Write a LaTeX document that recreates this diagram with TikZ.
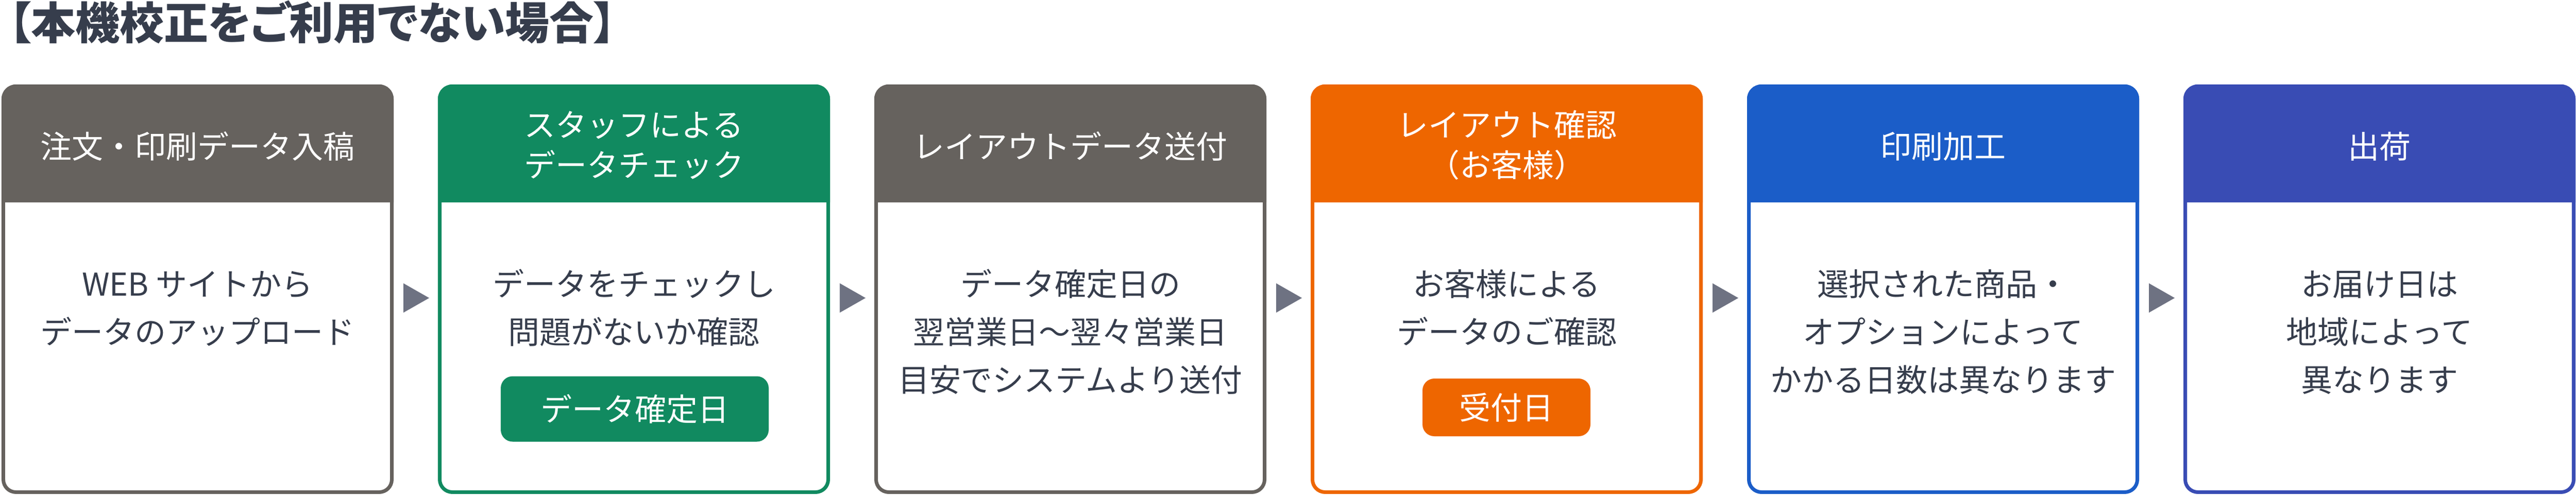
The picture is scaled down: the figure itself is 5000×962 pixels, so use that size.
\documentclass[tikz,border=0pt]{standalone}
\usepackage{fontspec}
\setmainfont{Noto Sans CJK JP}
\usetikzlibrary{calc}
\definecolor{cgray}{HTML}{66625E}
\definecolor{cgreen}{HTML}{118A60}
\definecolor{corange}{HTML}{EE6600}
\definecolor{cblue}{HTML}{1B5DC8}
\definecolor{cindigo}{HTML}{394CB4}
\definecolor{ctext}{HTML}{363D4C}
\definecolor{carrow}{HTML}{6E7282}
\begin{document}
\begin{tikzpicture}[x=0.2pt,y=-0.2pt,
  stepframe/.style={draw=#1, fill=white, line width=1.4pt, rounded corners=4.9pt,
    minimum width=150.8pt, minimum height=157.6pt, inner sep=0pt},
  hdrtext/.style={text=white, font=\fontsize{12.2pt}{15pt}\selectfont, inner sep=0pt, anchor=base},
  bodytext/.style={text=ctext, font=\fontsize{12.2pt}{15pt}\selectfont, inner sep=0pt, anchor=base},
  tag/.style={fill=#1, text=white, rounded corners=4.6pt, inner sep=0pt,
    font=\fontsize{12.2pt}{15pt}\selectfont},
  marker/.style={fill=carrow}]
\useasboundingbox (0,0) rectangle (5000,962);

\node[text=ctext, font=\fontsize{17.2pt}{21pt}\selectfont\bfseries\addfontfeatures{CharacterWidth=AlternateProportional},
  inner sep=0pt, anchor=base west]
  (title) at (16,76) {【本機校正をご利用でない場合】};

\foreach \i/\c in {1/cgray,2/cgreen,3/cgray,4/corange,5/cblue,6/cindigo} {
  \pgfmathsetmacro\L{3+847*(\i-1)}
  \node[stepframe=\c] (b\i) at (\L+380.5,561.5) {};
  \begin{scope}
    \clip (\L-5,150) rectangle (\L+766,392);
    \fill[\c, rounded corners=5.6pt] (\L,164) rectangle (\L+761,460);
  \end{scope}
}

\foreach \i in {1,...,5} {
  \coordinate (a\i) at (808+847*\i-847,578.5);
  \fill[marker] (a\i) ++(-25,-28.5) -- ++(50,28.5) -- ++(-50,28.5) -- cycle;
}

% headers
\node[hdrtext] (h1) at (383.5,307) {注文・印刷データ入稿};
\node[hdrtext] (h2a) at (1230.5,265) {スタッフによる};
\node[hdrtext] (h2b) at (1230.5,343) {データチェック};
\node[hdrtext] (h3) at (2077.5,307) {レイアウトデータ送付};
\node[hdrtext] (h4a) at (2924.5,265) {レイアウト確認};
\node[hdrtext] (h4b) at (2924.5,343) {（お客様）};
\node[hdrtext] (h5) at (3771.5,307) {印刷加工};
\node[hdrtext] (h6) at (4618.5,307) {出荷};

% bodies
\node[bodytext] (t1a) at (383.5,574) {WEB サイトから};
\node[bodytext] (t1b) at (383.5,667) {データのアップロード};
\node[bodytext] (t2a) at (1230.5,574) {データをチェックし};
\node[bodytext] (t2b) at (1230.5,667) {問題がないか確認};
\node[bodytext] (t3a) at (2077.5,574) {データ確定日の};
\node[bodytext] (t3b) at (2077.5,667) {翌営業日〜翌々営業日};
\node[bodytext] (t3c) at (2077.5,760) {目安でシステムより送付};
\node[bodytext] (t4a) at (2924.5,574) {お客様による};
\node[bodytext] (t4b) at (2924.5,667) {データのご確認};
\node[bodytext] (t5a) at (3771.5,574) {選択された商品・};
\node[bodytext] (t5b) at (3771.5,667) {オプションによって};
\node[bodytext] (t5c) at (3771.5,760) {かかる日数は異なります};
\node[bodytext] (t6a) at (4618.5,574) {お届け日は};
\node[bodytext] (t6b) at (4618.5,667) {地域によって};
\node[bodytext] (t6c) at (4618.5,760) {異なります};

% date tags
\node[tag=cgreen, minimum width=104pt, minimum height=25.4pt] (g2) at (1232,794) {データ確定日};
\node[tag=corange, minimum width=65.2pt, minimum height=22.4pt] (g4) at (2924,791) {受付日};
\end{tikzpicture}
\end{document}
